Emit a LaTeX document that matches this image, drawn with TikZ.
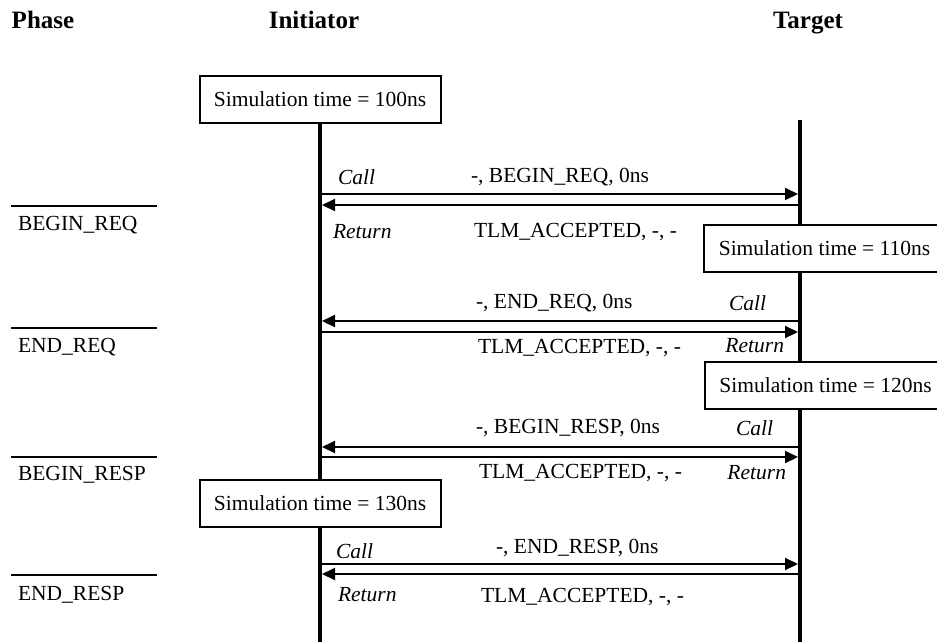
\documentclass[tikz,border=0pt]{standalone}
\usepackage{fontspec}
\setmainfont{Liberation Serif}
\usetikzlibrary{arrows.meta}

\begin{document}
\begin{tikzpicture}[x=1pt,y=-1pt, line width=2pt,
      every node/.append style={font=\fontsize{21.5}{24}\selectfont,inner sep=0pt},
      head/.style={anchor=base,font=\fontsize{25}{28}\selectfont\bfseries},
      simtime/.style={draw,fill=white,line width=2pt,minimum width=241pt,minimum height=47pt},
      msg/.style={-{Triangle[length=13pt,width=12pt]},line width=2pt},
      life/.style={line width=4.5pt}]
    \tikzstyle{param} = [anchor=west]
    \tikzstyle{kind} = [anchor=west,font=\fontsize{21.5}{24}\selectfont\itshape]
    \clip (0,0) rectangle (937,641);
    % column heads
    \node[head] (phase) at (43,28) {Phase};
    \node[head] (initiator) at (314,28) {Initiator};
    \node[head] (target) at (808,28) {Target};
    % life lines
    \coordinate (init_bot) at (320,648);
    \coordinate (targ_top) at (800,120);
    \coordinate (targ_bot) at (800,648);
    \node[simtime] (t100) at (320,99) {Simulation time = 100ns};
    \draw[life] (t100.south) -- (init_bot);
    \draw[life] (targ_top) -- (targ_bot);
    \node[simtime] (t110) at (824.5,248.5) {Simulation time = 110ns};
    \node[simtime] (t120) at (825.5,385.5) {Simulation time = 120ns};
    \node[simtime] (t130) at (320,503) {Simulation time = 130ns};
    % message end points
    \coordinate (i1) at (320,194); \coordinate (t1) at (798,194);
    \coordinate (i2) at (322,205); \coordinate (t2) at (800,205);
    \coordinate (i3) at (322,321); \coordinate (t3) at (800,321);
    \coordinate (i4) at (320,332); \coordinate (t4) at (798,332);
    \coordinate (i5) at (322,447); \coordinate (t5) at (800,447);
    \coordinate (i6) at (320,457); \coordinate (t6) at (798,457);
    \coordinate (i7) at (320,564); \coordinate (t7) at (798,564);
    \coordinate (i8) at (322,574); \coordinate (t8) at (800,574);
    \draw[msg] (i1) -- (t1);
    \draw[msg] (t2) -- (i2);
    \draw[msg] (t3) -- (i3);
    \draw[msg] (i4) -- (t4);
    \draw[msg] (t5) -- (i5);
    \draw[msg] (i6) -- (t6);
    \draw[msg] (i7) -- (t7);
    \draw[msg] (t8) -- (i8);
    % BEGIN_REQ
    \node[kind] (call1) at (337,177) {Call};
    \node[param] (fw1) at (470,177) {-, BEGIN\_REQ, 0ns};
    \node[kind] (ret1) at (332,232) {Return};
    \node[param] (bw1) at (473,232) {TLM\_ACCEPTED, -, -};
    % END_REQ
    \node[param] (fw2) at (475,303) {-, END\_REQ, 0ns};
    \node[kind] (call2) at (728,303) {Call};
    \node[param] (bw2) at (477,348) {TLM\_ACCEPTED, -, -};
    \node[kind,anchor=east] (ret2) at (785,346) {Return};
    % BEGIN_RESP
    \node[param] (fw3) at (475,428) {-, BEGIN\_RESP, 0ns};
    \node[kind] (call3) at (735,428) {Call};
    \node[param] (bw3) at (478,473) {TLM\_ACCEPTED, -, -};
    \node[kind,anchor=east] (ret3) at (787,473) {Return};
    % END_RESP
    \node[kind] (call4) at (335,551) {Call};
    \node[param] (fw4) at (495,548) {-, END\_RESP, 0ns};
    \node[kind] (ret4) at (337,595) {Return};
    \node[param] (bw4) at (480,597) {TLM\_ACCEPTED, -, -};
    % phases
    \coordinate (p1a) at (11,205.7); \coordinate (p1b) at (157,205.7);
    \coordinate (p2a) at (11,327.7); \coordinate (p2b) at (157,327.7);
    \coordinate (p3a) at (11,456.7); \coordinate (p3b) at (157,456.7);
    \coordinate (p4a) at (11,575); \coordinate (p4b) at (157,575);
    \draw (p1a) -- (p1b);
    \draw (p2a) -- (p2b);
    \draw (p3a) -- (p3b);
    \draw (p4a) -- (p4b);
    \node[param] (ph1) at (17,225) {BEGIN\_REQ};
    \node[param] (ph2) at (17,347) {END\_REQ};
    \node[param] (ph3) at (17,475) {BEGIN\_RESP};
    \node[param] (ph4) at (17,595) {END\_RESP};
  \end{tikzpicture}
\end{document}
